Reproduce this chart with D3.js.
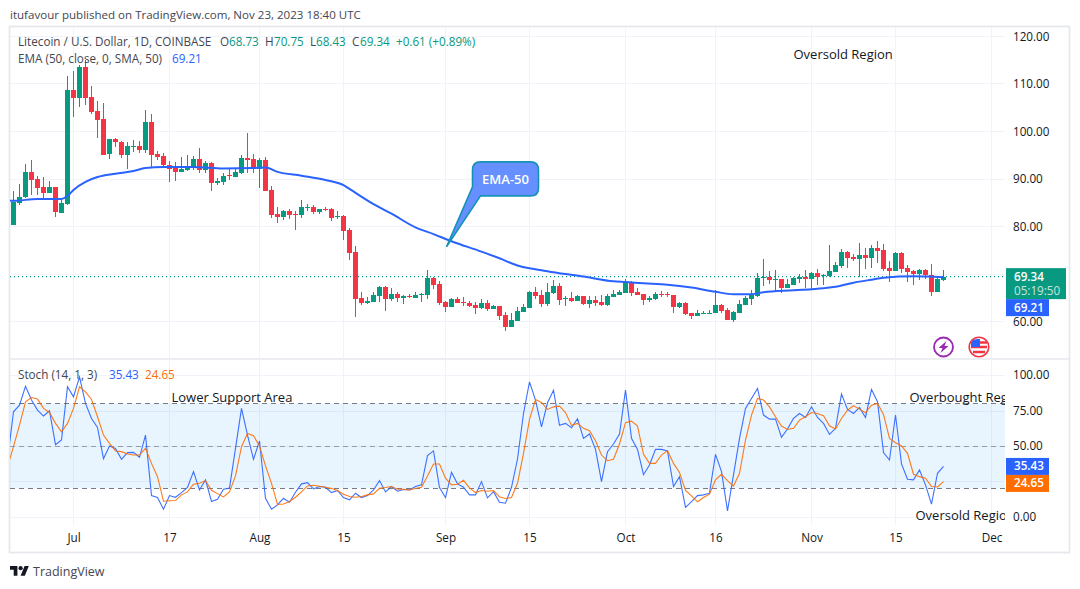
<!DOCTYPE html>
<html><head><meta charset="utf-8">
<script src="https://cdn.jsdelivr.net/npm/d3@7"></script>
<style>html,body{margin:0;padding:0;background:#fff}svg{display:block}text{font-family:"Open Sans",sans-serif}</style>
</head><body><svg id="c" width="1080" height="589"></svg>
<script>
const startDate = "2023-06-21";
const opens = [80.2,84.8,86.1,91.4,89.9,88.2,87.0,88.2,82.8,84.6,
108.6,107.0,113.5,107.2,104.2,102.5,95.2,98.3,97.7,95.0,
96.7,96.9,96.0,101.9,95.2,94.8,92.9,92.2,91.4,91.8,
92.2,94.1,91.8,93.3,89.1,89.3,90.8,90.3,91.2,94.3,
94.1,92.0,93.9,87.6,82.5,81.9,83.1,82.5,82.3,83.9,
84.0,82.9,83.6,83.6,81.9,82.1,79.1,74.5,64.8,63.8,
64.0,65.3,67.1,64.6,65.7,64.8,65.3,64.8,65.5,65.5,
69.0,67.8,64.0,62.9,64.6,64.0,63.8,63.4,62.7,63.8,
62.5,63.1,61.3,58.7,60.0,61.9,62.7,66.1,65.5,63.6,
65.9,67.4,64.6,64.8,64.2,65.3,63.6,64.4,64.0,63.4,
65.1,65.5,65.9,68.2,66.1,65.7,64.4,64.6,65.7,65.7,
65.5,62.9,63.8,61.7,61.05,61.5,61.5,61.7,63.4,62.3,
60.2,61.7,63.4,64.6,65.3,69.1,69.3,68.7,68.9,67.0,
67.6,68.9,69.3,68.9,70.1,69.5,69.5,70.3,71.6,74.5,
73.5,73.1,73.9,73.3,75.4,75.0,71.2,70.5,74.3,71.2,
70.5,69.9,70.7,69.7,66.1,68.73];
const highs = [87.4,88.8,93.1,93.9,90.5,90.3,89.5,88.2,85.7,111.6,
112.6,113.9,114.9,109.5,106.3,105.9,98.3,98.5,97.9,97.7,
98.1,97.9,104.4,103.6,95.8,95.4,93.7,93.5,94.5,95.0,
94.8,96.4,93.7,93.5,90.1,91.2,92.0,92.0,95.0,99.6,
95.2,94.3,94.5,88.4,84.0,83.4,83.6,83.1,85.5,84.6,
84.4,83.6,84.0,83.8,83.1,82.3,79.6,75.8,66.1,65.0,
66.1,67.4,67.4,66.9,66.1,65.5,65.7,66.1,65.9,70.7,
69.2,68.4,64.2,64.8,65.0,65.0,64.2,64.0,64.6,64.4,
63.4,63.1,61.9,61.7,62.9,63.6,66.3,67.1,66.5,68.0,
68.6,68.0,65.3,66.1,65.5,65.3,65.3,65.3,65.5,65.7,
66.5,66.5,68.8,68.4,67.0,65.7,65.3,66.1,66.3,66.1,
65.5,64.0,64.0,61.7,62.3,62.1,62.3,66.5,63.6,62.7,
62.1,64.4,65.3,66.5,70.1,73.1,70.5,70.7,68.9,68.9,
69.3,69.9,70.7,70.3,71.0,69.9,76.0,72.4,75.2,74.7,
74.1,76.4,75.4,76.0,76.8,76.2,72.6,74.5,74.5,71.8,
70.7,71.0,71.0,72.0,69.3,70.75];
const lows = [80.2,84.4,85.9,86.5,86.5,85.7,87.0,81.9,82.8,84.4,
102.9,105.1,105.5,103.6,98.5,95.0,94.1,96.7,94.3,92.0,
95.6,95.4,95.4,92.4,93.9,92.2,89.3,89.5,91.4,91.6,
91.8,91.2,91.2,87.4,88.6,88.6,89.7,90.3,91.0,91.2,
91.2,88.0,87.4,81.7,80.6,81.3,81.5,79.1,81.7,83.1,
82.5,82.5,83.1,81.0,81.5,77.1,72.8,60.8,63.4,63.6,
64.0,64.0,62.1,64.2,64.0,63.6,64.8,64.8,64.0,64.6,
66.7,63.4,61.9,62.9,63.8,63.1,62.9,61.5,62.5,62.1,
62.5,60.2,57.9,58.7,60.0,61.9,62.7,64.6,62.9,63.2,
65.7,63.4,63.2,64.0,64.2,63.4,62.7,63.2,63.2,63.2,
65.1,65.5,65.9,65.3,65.5,63.4,64.0,64.4,65.1,65.1,
61.7,62.7,61.3,60.4,61.05,61.5,61.5,61.7,61.7,60.2,
59.8,61.7,63.4,63.4,65.1,67.4,67.8,66.3,65.9,67.0,
67.6,68.0,67.0,66.7,67.6,67.6,69.3,70.3,71.2,71.2,
72.6,69.3,71.0,71.2,72.2,70.5,68.2,70.5,70.1,68.2,
67.6,68.6,68.9,65.3,66.1,68.43];
const closes = [85.1,86.1,91.4,89.7,88.0,87.0,88.2,83.0,84.8,108.6,
107.0,113.5,107.0,104.0,102.3,95.0,98.3,97.7,95.0,96.9,
96.9,96.0,101.9,95.0,94.5,92.9,92.0,91.4,92.0,92.4,
94.1,91.8,93.3,89.1,89.5,90.5,90.5,91.4,94.3,93.9,
92.0,93.9,87.4,82.3,81.9,83.1,82.3,82.3,84.0,84.0,
82.9,83.6,83.4,81.7,82.1,78.9,74.3,64.6,63.8,64.2,
65.5,67.1,64.6,65.7,64.8,65.3,65.0,65.5,65.7,69.0,
67.6,63.8,62.9,64.6,63.8,63.8,63.1,62.7,63.8,62.5,
63.1,61.0,58.7,60.2,62.1,62.9,66.1,65.3,63.6,66.1,
67.4,64.4,64.8,64.2,65.3,63.6,64.4,63.8,63.4,65.3,
65.7,66.1,68.2,65.9,65.5,64.4,64.8,65.7,65.5,65.5,
62.9,63.8,61.5,61.05,61.7,61.7,61.7,63.4,62.1,60.2,
61.9,63.6,64.8,65.5,69.1,69.3,68.6,68.9,67.0,67.8,
69.1,69.3,68.9,70.1,69.3,69.7,70.5,71.8,74.5,73.3,
73.1,73.9,73.3,75.4,74.7,71.0,70.5,74.3,71.0,70.3,
69.9,70.7,69.7,66.1,68.9,69.34];
// EMA read at selected day numbers (days after the first candle; -1 is the clipped day before it)
const emaDays = [-1,0,4,8,9,10,12,14,17,20,22,25,30,35,40,42,44,48,52,55,56,60,63,67,70,73,78,81,84,86,88,90,95,100,102,105,109,113,117,120,123,125,130,135,137,140,143,145,150,155];
const emaValues = [85.3,85.3,85.7,85.7,86.3,87.6,89.3,90.3,91.0,91.6,92.2,92.4,92.4,92.1,92.2,92.3,91.4,90.6,89.7,88.6,87.8,84.6,82.6,79.7,78.3,76.8,74.6,73.2,71.7,71.1,70.7,70.25,69.35,68.35,68.2,67.95,67.65,67.05,66.15,65.65,65.65,66.05,66.46,66.9,67.2,68.06,68.7,69.1,69.4,69.21];
// Stochastic: first entry is the clipped day before the first candle
const stochK = [40.0,74.1,78.8,92.2,82.4,75.3,71.1,74.8,50.8,54.1,91.8,
84.7,98.8,80.0,69.4,63.1,40.9,49.9,48.2,40.5,45.2,
45.4,41.9,57.6,14.8,13.4,5.2,14.8,13.6,16.9,20.5,
31.8,18.8,25.9,10.6,12.2,19.3,20.2,48.2,76.5,57.6,
40.5,53.4,12.9,5.2,8.2,12.9,10.1,17.2,23.1,24.0,
19.5,21.2,20.7,16.9,18.4,13.4,11.8,16.5,13.4,14.8,
18.8,25.4,17.4,21.2,17.9,19.1,18.8,21.2,22.4,43.1,
46.4,20.5,13.4,31.3,23.1,20.7,15.3,15.3,24.7,13.2,
17.6,10.1,9.4,20.7,40.7,72.9,95.3,82.4,63.5,80.5,
89.4,64.5,65.9,62.8,69.2,55.3,58.4,47.5,24.7,45.9,
51.3,58.4,89.4,55.3,47.5,29.6,36.5,47.5,47.5,46.4,
21.2,28.2,6.4,10.6,14.8,15.3,16.5,44.0,31.8,4.0,
29.4,55.3,76.5,83.5,90.6,71.8,68.9,68.9,56.0,61.9,
69.4,72.9,70.1,77.6,70.1,65.9,58.1,62.4,86.6,75.8,
72.9,77.2,70.1,89.9,81.2,45.2,40.0,71.8,37.2,26.4,
25.9,32.9,22.4,8.7,30.6,35.43];
const stochD = [35.3,49.4,64.7,81.2,84.2,83.1,76.5,73.6,65.9,60.0,65.9,
76.5,91.8,88.2,82.8,70.6,57.6,51.8,46.4,45.9,44.2,
43.5,43.5,48.2,37.6,28.2,10.8,11.1,11.3,15.3,17.4,
22.8,23.5,25.4,18.6,16.2,13.9,17.4,28.7,49.4,58.8,
57.2,49.9,35.8,23.5,8.5,8.9,10.6,13.6,17.4,21.6,
22.1,21.4,20.7,19.8,18.4,15.8,14.1,13.6,14.1,15.3,
16.0,20.0,20.5,21.2,19.3,19.3,18.8,19.8,20.7,28.7,
37.2,37.2,27.1,22.4,22.8,25.6,20.2,16.9,18.4,17.9,
18.4,13.9,12.7,13.4,23.5,44.7,68.7,82.8,80.7,75.8,
77.6,78.1,73.6,64.5,65.9,62.4,60.7,53.6,43.5,39.5,
40.5,51.3,66.4,67.5,64.0,44.0,37.6,37.6,43.5,46.6,
37.6,31.1,18.4,14.6,10.4,13.4,15.8,25.9,29.9,25.4,
21.6,30.6,54.1,71.8,83.5,82.4,77.6,70.6,64.0,61.6,
62.4,68.2,70.6,73.6,72.9,71.3,64.2,61.9,69.4,75.3,
78.4,76.0,73.4,78.8,80.0,72.2,55.3,52.2,49.9,44.7,
29.9,28.2,27.1,21.2,20.9,24.65];
const priceTicks = [60,70,80,90,100,110,120];
const priceLabels = [60,80,90,100,110,120];
const stochTicks = [0,25,50,75,100];
const stochLabels = [0,50,75,100];
const stochLevels = [20,50,80];
const timeTicks = [["2023-07-01","Jul"],["2023-07-17","17"],["2023-08-01","Aug"],["2023-08-15","15"],["2023-09-01","Sep"],["2023-09-15","15"],["2023-10-01","Oct"],["2023-10-16","16"],["2023-11-01","Nov"],["2023-11-15","15"],["2023-12-01","Dec"]];
const lastPrice = 69.34, lastEma = 69.21, lastK = 35.43, lastD = 24.65;
const priceNote = {t:"Oversold Region",date:"2023-10-29",p:115.2};
const stochNotes = [
 {t:"Lower Support Area",date:"2023-07-17",v:80},
 {t:"Overbought Region",date:"2023-11-17",v:80},
 {t:"Oversold Region",date:"2023-11-18",v:0}
];

const UP="#089981",DOWN="#f23645",BLUE="#2962ff",ORANGE="#ff6d00",GRID="#f0f3fa",TXT="#131722",BORDER="#e6e8ee",L="#434651";
const FS=11.7;
const parse=d3.utcParse("%Y-%m-%d");
const t0=parse(startDate);
const dayDate=i=>d3.utcDay.offset(t0,i);
const X0=10,X1=1005;
const x=d3.scaleUtc().domain([t0,parse("2023-12-01")]).range([13.5,991.5]);
const y=d3.scaleLinear().domain([60,120]).range([321,36]);
const yS=d3.scaleLinear().domain([0,100]).range([516.5,375.2]);
const fmt=d3.format(".2f");
const svg=d3.select("#c");
const defs=svg.append("defs");
defs.append("clipPath").attr("id","p1").append("rect").attr("x",X0).attr("y",27).attr("width",X1-X0).attr("height",331);
defs.append("clipPath").attr("id","p2").append("rect").attr("x",X0).attr("y",360).attr("width",X1-X0).attr("height",165);

// header
svg.append("text").attr("x",10).attr("y",19).attr("font-size",11.55).attr("fill",L).text("itufavour published on TradingView.com, Nov 23, 2023 18:40 UTC");
// frame
svg.append("rect").attr("x",9.5).attr("y",26.5).attr("width",1060).attr("height",526).attr("fill","none").attr("stroke",BORDER).attr("stroke-width",1.8);
svg.append("line").attr("x1",10).attr("x2",1069).attr("y1",359).attr("y2",359).attr("stroke",BORDER).attr("stroke-width",1.5);

// grid
const g=svg.append("g").attr("stroke",GRID).attr("shape-rendering","crispEdges");
timeTicks.forEach(d=>{const px=Math.floor(x(parse(d[0])));
 g.append("line").attr("x1",px).attr("x2",px).attr("y1",27).attr("y2",358);
 g.append("line").attr("x1",px).attr("x2",px).attr("y1",360).attr("y2",525);});
priceTicks.forEach(v=>g.append("line").attr("x1",X0).attr("x2",X1).attr("y1",Math.round(y(v))).attr("y2",Math.round(y(v))));
stochTicks.forEach(v=>g.append("line").attr("x1",X0).attr("x2",X1).attr("y1",Math.round(yS(v))).attr("y2",Math.round(yS(v))));

// stoch band and levels
svg.append("rect").attr("x",X0).attr("width",X1-X0).attr("y",yS(80)).attr("height",yS(20)-yS(80)).attr("fill","#2196f3").attr("opacity",0.1);
stochLevels.forEach(v=>svg.append("line").attr("x1",X0).attr("x2",X1).attr("y1",Math.round(yS(v))+.5).attr("y2",Math.round(yS(v))+.5)
 .attr("stroke","#787b86").attr("stroke-dasharray","5 4").attr("opacity",v===50?0.7:1));

// candles
const pane=svg.append("g").attr("clip-path","url(#p1)");
pane.append("line").attr("x1",X0).attr("x2",X1).attr("y1",y(lastPrice)).attr("y2",y(lastPrice)).attr("stroke",UP).attr("stroke-dasharray","1 3").attr("stroke-width",1.2);
const idx=d3.range(opens.length);
const cg=pane.append("g").attr("shape-rendering","crispEdges");
cg.selectAll(".w").data(idx).join("rect").attr("class","w")
 .attr("x",i=>x(dayDate(i))-.5).attr("width",1)
 .attr("y",i=>y(highs[i])).attr("height",i=>Math.max(1,y(lows[i])-y(highs[i])))
 .attr("fill",i=>closes[i]>=opens[i]?UP:DOWN);
cg.selectAll(".b").data(idx).join("rect").attr("class","b")
 .attr("x",i=>x(dayDate(i))-2.5).attr("width",5)
 .attr("y",i=>y(Math.max(opens[i],closes[i]))).attr("height",i=>Math.max(1,Math.abs(y(opens[i])-y(closes[i]))))
 .attr("fill",i=>closes[i]>=opens[i]?UP:DOWN);
// EMA
pane.append("path").datum(emaDays).attr("fill","none").attr("stroke",BLUE).attr("stroke-width",2)
 .attr("d",d3.line().x(d=>x(dayDate(d))).y((d,i)=>y(emaValues[i])).curve(d3.curveMonotoneX));
// price-pane note
pane.append("text").attr("x",x(parse(priceNote.date))).attr("y",y(priceNote.p)).attr("font-size",13).attr("fill",TXT).text(priceNote.t);

// stoch lines
const sp=svg.append("g").attr("clip-path","url(#p2)");
const sline=d3.line().x((d,i)=>x(dayDate(i-1))).y(d=>yS(d));
sp.append("path").attr("d",sline(stochK)).attr("fill","none").attr("stroke",BLUE).attr("stroke-width",1.1).attr("opacity",.9);
sp.append("path").attr("d",sline(stochD)).attr("fill","none").attr("stroke",ORANGE).attr("stroke-width",1.1).attr("opacity",.9);
stochNotes.forEach(n=>sp.append("text").attr("x",x(parse(n.date))+2).attr("y",yS(n.v)+(n.v===0?3:-1)).attr("font-size",13).attr("fill",TXT).text(n.t));

// callout
const tipX=x(dayDate(72))+1, tipY=y(75.6);
const cx0=tipX+26, cy0=tipY-85, cw=66, ch=34, r=8;
const co=svg.append("g");
co.append("path").attr("fill","#6690ff").attr("stroke","#1592b8").attr("stroke-width",1.6)
 .attr("d",`M${cx0+r},${cy0}H${cx0+cw-r}Q${cx0+cw},${cy0} ${cx0+cw},${cy0+r}V${cy0+ch-r}Q${cx0+cw},${cy0+ch} ${cx0+cw-r},${cy0+ch}H${cx0+8}L${tipX},${tipY}L${cx0},${cy0+ch-9}V${cy0+r}Q${cx0},${cy0} ${cx0+r},${cy0}Z`);
co.append("text").attr("x",cx0+cw/2).attr("y",cy0+22).attr("text-anchor","middle").attr("font-size",13).attr("font-weight",600).attr("fill","#fff").text("EMA-50");

// axes
const ax1=svg.append("g").attr("transform",`translate(${X1},0.5)`).call(d3.axisRight(y).tickValues(priceLabels).tickSize(0).tickPadding(8).tickFormat(fmt));
const ax2=svg.append("g").attr("transform",`translate(${X1},0)`).call(d3.axisRight(yS).tickValues(stochLabels).tickSize(0).tickPadding(8).tickFormat(fmt));
const ax3=svg.append("g").attr("transform","translate(0,526)").call(d3.axisBottom(x).tickValues(timeTicks.map(d=>parse(d[0]))).tickSize(0).tickPadding(8).tickFormat((d,i)=>timeTicks[i][1]));
[ax1,ax2,ax3].forEach(a=>{a.select(".domain").remove();a.selectAll("text").attr("font-size",FS).attr("fill",TXT).style("font-family",'"Open Sans",sans-serif');});

// price tags
function tag(top,w,h,fill,label,sub){
 svg.append("rect").attr("x",1006).attr("y",top).attr("width",w).attr("height",h).attr("fill",fill);
 svg.append("text").attr("x",1014).attr("y",top+12.5).attr("font-size",FS).attr("font-weight",600).attr("fill","#fff").text(label);
 if(sub) svg.append("text").attr("x",1014).attr("y",top+26.5).attr("font-size",FS).attr("fill","#fff").attr("opacity",.75).text(sub);
}
const priceTop=y(lastPrice)-8.5;
tag(priceTop,60,31,UP,fmt(lastPrice),"05:19:50");
tag(priceTop+31,43,17,BLUE,fmt(lastEma));
const stochTop=yS(lastK)-8.5;
tag(stochTop,43,17,BLUE,fmt(lastK));
tag(stochTop+17,43,17,ORANGE,fmt(lastD));

// legends
function legend(yy,parts){
 const t=svg.append("text").attr("y",yy).attr("font-size",FS);
 parts.forEach(p=>t.append("tspan").attr("x",p[2]).attr("fill",p[1]).text(p[0]));
}
legend(46,[["Litecoin / U.S. Dollar, 1D, COINBASE",L,18],["O",L,220],["68.73",UP,229],["H",L,265],["70.75",UP,274],["L",L,310],["68.43",UP,316],["C",L,352],["69.34",UP,360],["+0.61 (+0.89%)",UP,396]]);
legend(63,[["EMA (50, close, 0, SMA, 50)",L,18],["69.21",BLUE,172]]);
legend(379,[["Stoch (14, 1, 3)",L,18],["35.43",BLUE,109],["24.65",ORANGE,145]]);

// icons
const bolt=svg.append("g").attr("transform","translate(943.5,347)");
bolt.append("circle").attr("r",9.5).attr("fill","#fff").attr("stroke","#9c27b0").attr("stroke-width",1.8);
bolt.append("path").attr("d","M3,-6L-5,1H-1L-3,6L5,-1H1Z").attr("fill","#9c27b0");
const flag=svg.append("g").attr("transform","translate(979,347)");
flag.append("circle").attr("r",9.8).attr("fill","#fff").attr("stroke","#f23645").attr("stroke-width",1.6);
flag.append("path").attr("d","M-8,-4.5H8M-8,0H8M-6,5H6").attr("stroke","#f23645").attr("stroke-width",2.6);
flag.append("path").attr("d","M-6,-7Q-2,-8.5 1,-8V0H-8V-3Z").attr("fill","#2962ff");

// logo
const logo=svg.append("g").attr("transform","translate(10,564) scale(.53)").attr("fill","#131722");
logo.append("path").attr("d","M14 22H7V11H0V4h14v18zM28 22h-8l7.5-18h8L28 22z");
logo.append("circle").attr("cx",20).attr("cy",8).attr("r",4);
svg.append("text").attr("x",33).attr("y",576).attr("font-size",12.5).attr("fill",L).text("TradingView");
</script></body></html>
